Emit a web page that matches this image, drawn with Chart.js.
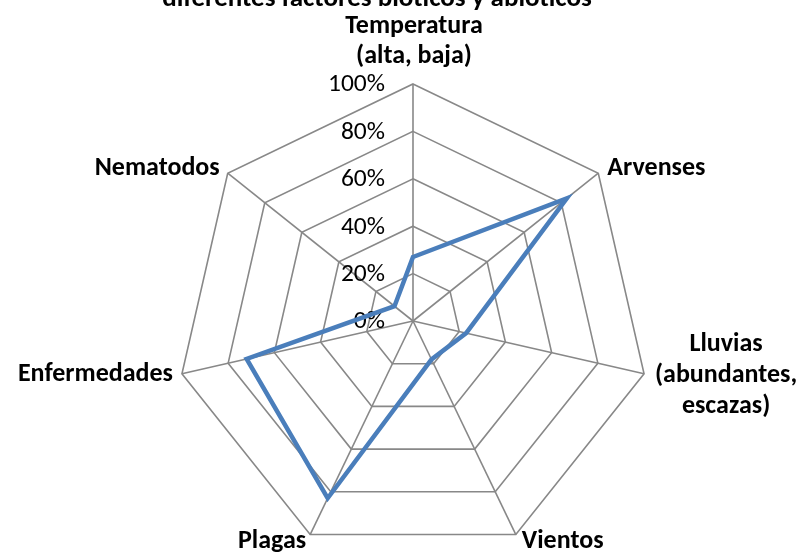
<!DOCTYPE html>
<html>
<head>
<meta charset="utf-8">
<script src="https://cdn.jsdelivr.net/npm/chart.js@4.4.1/dist/chart.umd.min.js"></script>
<style>
  html, body { margin: 0; padding: 0; background: #ffffff; overflow: hidden; }
  canvas { display: block; }
</style>
</head>
<body>
<canvas id="radar" width="804" height="558"></canvas>
<script>
// Chart text and values
const titleText = 'diferentes factores bióticos y abióticos';
const categories = [
  ['Temperatura', '(alta, baja)'],
  ['Arvenses'],
  ['Lluvias', '(abundantes,', 'escazas)'],
  ['Vientos'],
  ['Plagas'],
  ['Enfermedades'],
  ['Nematodos']
];
const values = [27, 83, 23, 18, 83, 72, 10];
const tickValues = [0, 20, 40, 60, 80, 100];
const tickLabels = ['0%', '20%', '40%', '60%', '80%', '100%'];

const FONT = 'Carlito, Calibri, Lato, sans-serif';

// Where each axis label sits relative to its outer vertex
const labelPlacement = [
  { align: 'center', dx: 1,   dy: -51, lh: 30 },
  { align: 'left',   dx: 9,   dy: 2,   lh: 30 },
  { align: 'center', dx: 82,  dy: -23, lh: 31 },
  { align: 'left',   dx: 6,   dy: 13,  lh: 30 },
  { align: 'right',  dx: -4,  dy: 13,  lh: 30 },
  { align: 'right',  dx: -9,  dy: 7,   lh: 30 },
  { align: 'right',  dx: -8,  dy: 2,   lh: 30 }
];

const textPlugin = {
  id: 'radarText',
  beforeDatasetsDraw(chart) {
    const r = chart.scales.r;
    const ctx = chart.ctx;
    ctx.save();
    ctx.fillStyle = '#000000';
    ctx.font = '25.5px ' + FONT;
    ctx.textAlign = 'right';
    ctx.textBaseline = 'middle';
    tickValues.forEach((v, i) => {
      const d = r.getDistanceFromCenterForValue(v);
      ctx.fillText(tickLabels[i], r.xCenter - 28, r.yCenter - d + 1);
    });
    ctx.restore();
  },
  afterDraw(chart) {
    const r = chart.scales.r;
    const ctx = chart.ctx;
    ctx.save();
    ctx.fillStyle = '#000000';
    ctx.textBaseline = 'alphabetic';
    ctx.font = 'bold 26px ' + FONT;
    categories.forEach((lines, i) => {
      const p = r.getPointPosition(i, r.drawingArea);
      const pl = labelPlacement[i];
      ctx.textAlign = pl.align;
      lines.forEach((line, k) => {
        ctx.fillText(line, p.x + pl.dx, p.y + pl.dy + k * pl.lh);
      });
    });
    ctx.font = 'bold 27px ' + FONT;
    ctx.textAlign = 'center';
    ctx.fillText(titleText, 377, 6);
    ctx.restore();
  }
};

new Chart(document.getElementById('radar'), {
  type: 'radar',
  data: {
    labels: categories,
    datasets: [{
      data: values,
      borderColor: '#4A7EBB',
      borderWidth: 4.5,
      borderJoinStyle: 'miter',
      backgroundColor: 'rgba(0,0,0,0)',
      fill: false,
      pointRadius: 0,
      pointHoverRadius: 0,
      tension: 0
    }]
  },
  options: {
    responsive: false,
    animation: false,
    layout: { padding: { left: 173, right: 151, top: 84, bottom: -6 } },
    plugins: {
      legend: { display: false },
      title: { display: false },
      tooltip: { enabled: false }
    },
    scales: {
      r: {
        min: 0,
        max: 100,
        beginAtZero: true,
        ticks: { display: false, stepSize: 20 },
        pointLabels: { display: false },
        grid: { color: '#888888', lineWidth: 1.6, circular: false },
        angleLines: { color: '#888888', lineWidth: 1.6 }
      }
    }
  },
  plugins: [textPlugin]
});
</script>
</body>
</html>
